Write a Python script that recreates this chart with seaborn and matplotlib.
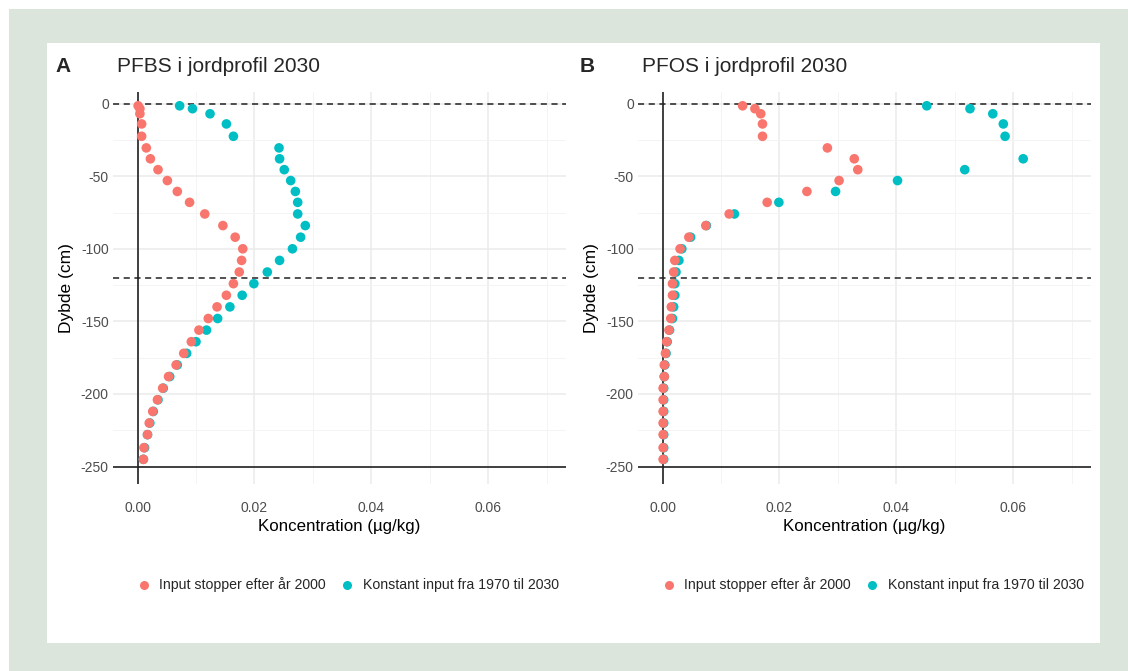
import numpy as np
import pandas as pd
import matplotlib
matplotlib.use("Agg")
import matplotlib.pyplot as plt
from matplotlib.patches import Rectangle
from matplotlib.lines import Line2D
import seaborn as sns

# ---- data ----
depth = [-1.5, -3.5, -7, -14, -22.5, -30.5, -38, -45.5, -53, -60.5, -68, -76, -84, -92,
         -100, -108, -116, -124, -132, -140, -148, -156, -164, -172, -180, -188, -196,
         -204, -212, -220, -228, -237, -245]

pfbs_stop = [0.0001, 0.0004, 0.0004, 0.0007, 0.0007, 0.0015, 0.0022, 0.0035, 0.0051, 0.0068,
             0.0089, 0.0115, 0.0146, 0.0167, 0.0180, 0.0178, 0.0174, 0.0164, 0.0152, 0.0136,
             0.0121, 0.0105, 0.0092, 0.0079, 0.0066, 0.0053, 0.0043, 0.0034, 0.0026, 0.0020,
             0.0017, 0.0011, 0.0010]
pfbs_const = [0.0072, 0.0094, 0.0124, 0.0152, 0.0164, 0.0242, 0.0243, 0.0251, 0.0262, 0.0270,
              0.0274, 0.0274, 0.0287, 0.0279, 0.0265, 0.0243, 0.0222, 0.0199, 0.0179, 0.0158,
              0.0137, 0.0118, 0.0100, 0.0084, 0.0068, 0.0055, 0.0044, 0.0035, 0.0027, 0.0021,
              0.0017, 0.0012, 0.0010]

pfos_stop = [0.0137, 0.0158, 0.0168, 0.0171, 0.0171, 0.0282, 0.0328, 0.0334, 0.0302, 0.0247,
             0.0179, 0.0114, 0.0074, 0.0045, 0.0030, 0.0021, 0.0019, 0.0017, 0.0017, 0.0015,
             0.0014, 0.0011, 0.0007, 0.0005, 0.0003, 0.0003, 0.0001, 0.0001, 0.0001, 0.0001,
             0.0001, 0.0001, 0.0001]
pfos_const = [0.0452, 0.0526, 0.0565, 0.0583, 0.0586, np.nan, 0.0617, 0.0517, 0.0402, 0.0296,
              0.0199, 0.0123, 0.0075, 0.0048, 0.0033, 0.0028, 0.0023, 0.0021, 0.0021, 0.0019,
              0.0017, 0.0012, 0.0008, 0.0006, 0.0004, 0.0003, 0.0002, 0.0002, 0.0002, 0.0002,
              0.0002, 0.0002, 0.0002]

series_labels = ["Input stopper efter år 2000", "Konstant input fra 1970 til 2030"]
colors = ["#F8766D", "#00BFC4"]
panel_letters = ["A", "B"]
panel_titles = ["PFBS i jordprofil 2030", "PFOS i jordprofil 2030"]
x_ticks = [0.00, 0.02, 0.04, 0.06]
y_ticks = [0, -50, -100, -150, -200, -250]
ref_dashed = [0, -120]

def make_df(stop, const):
    # constant-input series first so the stopped series is drawn on top
    d1 = pd.DataFrame({"conc": const, "depth": depth, "scenario": series_labels[1]})
    d0 = pd.DataFrame({"conc": stop, "depth": depth, "scenario": series_labels[0]})
    return pd.concat([d1, d0], ignore_index=True).dropna()

dfs = [make_df(pfbs_stop, pfbs_const), make_df(pfos_stop, pfos_const)]

sns.set_theme(style="white")
plt.rcParams["font.family"] = ["Liberation Sans", "DejaVu Sans"]

W, H = 1128, 671
fig = plt.figure(figsize=(W / 100, H / 100), dpi=100)
fig.patch.set_facecolor("white")
fig.add_artist(Rectangle((9 / W, 0), 1 - 9 / W, 1 - 9 / H, transform=fig.transFigure,
                         facecolor="#DCE5DC", edgecolor="none", zorder=-10))
fig.add_artist(Rectangle((47 / W, 1 - 643 / H), (1100 - 47) / W, (643 - 43) / H,
                         transform=fig.transFigure, facecolor="white", edgecolor="none",
                         zorder=-9))

ax_lefts = [113, 638]
ax_w = 453
ax_top, ax_bot = 92, 484
palette = dict(zip(series_labels, colors))

for i, df in enumerate(dfs):
    ax = fig.add_axes([ax_lefts[i] / W, 1 - ax_bot / H, ax_w / W, (ax_bot - ax_top) / H])
    ax.set_facecolor("none")
    sns.scatterplot(data=df, x="conc", y="depth", hue="scenario", palette=palette,
                    hue_order=series_labels, s=48, linewidth=0, ax=ax, legend=False,
                    zorder=3)
    ax.set_xlim(-0.0042, 0.0733)
    ax.set_ylim(-262, 8)
    ax.set_xticks(x_ticks)
    ax.set_xticklabels([f"{v:.2f}" for v in x_ticks])
    ax.set_yticks(y_ticks)
    ax.set_yticklabels([str(v) for v in y_ticks])
    ax.set_xticks([0.01, 0.03, 0.05, 0.07], minor=True)
    ax.set_yticks([-25, -75, -125, -175, -225], minor=True)
    ax.grid(True, which="major", color="#EBEBEB", linewidth=1.1, zorder=0)
    ax.grid(True, which="minor", color="#F4F4F4", linewidth=0.7, zorder=0)
    for s in ax.spines.values():
        s.set_visible(False)
    ax.tick_params(which="both", length=0, labelsize=10, labelcolor="#4D4D4D")
    ax.tick_params(axis="x", pad=12)
    ax.tick_params(axis="y", pad=3)
    for yv in ref_dashed:
        ax.axhline(yv, color="#222222", linestyle=(0, (4, 3)), linewidth=1.1, zorder=2)
    ax.axhline(-250, color="#222222", linewidth=1.2, zorder=2)
    ax.axvline(0, color="#222222", linewidth=1.2, zorder=2)
    ax.set_xlabel("Koncentration (µg/kg)", fontsize=12.2, color="black", labelpad=3)
    ax.set_ylabel("Dybde (cm)", fontsize=12.5, color="black", labelpad=5)

    # titles
    fig.text((ax_lefts[i] - 58) / W, 1 - 67 / H, panel_letters[i], fontsize=15,
             fontweight="bold", va="center", ha="left")
    fig.text((ax_lefts[i] + 4) / W, 1 - 67 / H, panel_titles[i], fontsize=15,
             va="center", ha="left")

    handles = [Line2D([0], [0], marker="o", linestyle="none", markersize=6.5,
                      markerfacecolor=c, markeredgewidth=0) for c in colors]
    fig.legend(handles, series_labels, loc="center",
               bbox_to_anchor=((ax_lefts[i] + ax_w / 2 + 8) / W, 1 - 585 / H),
               ncol=2, frameon=False, fontsize=10.2, handletextpad=0.6,
               columnspacing=1.0, handlelength=1.0)

fig.savefig("out.png", dpi=100, facecolor=fig.get_facecolor())
